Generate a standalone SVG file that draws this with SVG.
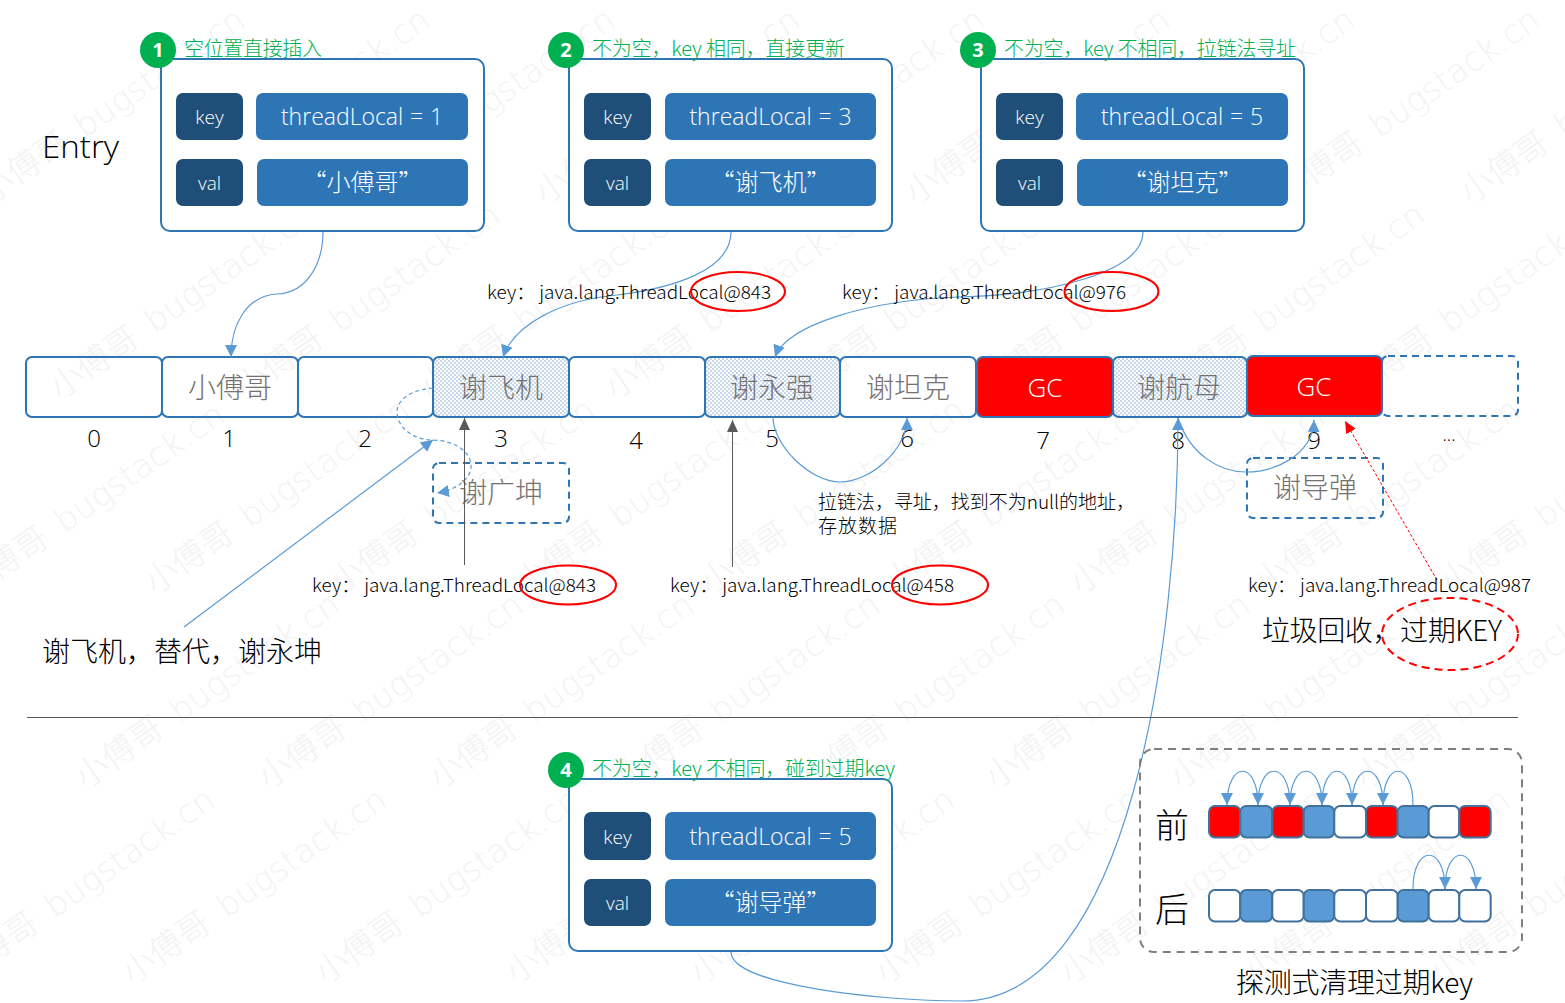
<svg xmlns="http://www.w3.org/2000/svg" xmlns:xlink="http://www.w3.org/1999/xlink" width="1565" height="1003" viewBox="0 0 1565 1003">
<style>
text{font-family:"Noto Sans CJK SC","Noto Sans",sans-serif;font-weight:300}
.wm{font-family:"DejaVu Sans","Noto Sans CJK SC",sans-serif;font-size:33px;fill:#f3f3f3;word-spacing:6px}
.cell{fill:none;stroke:#2e75b6;stroke-width:2}
.dot{fill:url(#dots);stroke:#2e75b6;stroke-width:2}
.gc{fill:#f00;stroke:#2e75b6;stroke-width:2}
.dash{fill:none;stroke:#2e75b6;stroke-width:2;stroke-dasharray:7 5}
.ct{font-size:28px;fill:#767171;text-anchor:middle}
.gct{font-size:26px;fill:#fff;text-anchor:middle;font-family:"Open Sans",sans-serif}
.idx{font-size:24px;fill:#000;text-anchor:middle;font-family:"Open Sans",sans-serif}
.box{fill:#fff;stroke:#2e75b6;stroke-width:2}
.k{fill:#1f4e79}
.v{fill:#2e75b6}
.kt{font-size:19px;fill:#fff;text-anchor:middle;font-family:"Open Sans",sans-serif}
.vt{font-size:23px;fill:#fff;text-anchor:middle;font-family:"Open Sans",sans-serif;word-spacing:.8px}
.vc{font-size:24px;fill:#fff;text-anchor:middle}
.badge{fill:#00b050}
.bt{font-size:20px;font-weight:700;fill:#fff;text-anchor:middle;font-family:"Open Sans",sans-serif}
.gl{font-size:20px;fill:#00b050}
.lb{font-size:18px;fill:#000}
.big{font-size:28px;fill:#000}
.conn{fill:none;stroke:#5b9bd5;stroke-width:1.2}
.gray{fill:none;stroke:#595959;stroke-width:1}
.oval{fill:none;stroke:#f00;stroke-width:2}
.sc{stroke:#41719c;stroke-width:2}
.sr{fill:#f00}.sb{fill:#5b9bd5}.sw{fill:#fff}
</style>
<defs>
<pattern id="dots" width="4" height="4" patternUnits="userSpaceOnUse"><rect width="4" height="4" fill="#fff"/><circle cx="1" cy="1" r="0.8" fill="#7fa8d4"/><circle cx="3" cy="3" r="0.8" fill="#7fa8d4"/></pattern>
<marker id="ab" markerUnits="userSpaceOnUse" markerWidth="14" markerHeight="14" refX="12" refY="6" orient="auto"><path d="M0 0L12 6L0 12Z" fill="#5b9bd5"/></marker>
<marker id="ag" markerUnits="userSpaceOnUse" markerWidth="14" markerHeight="14" refX="12" refY="5.5" orient="auto"><path d="M0 0L12 5.5L0 11Z" fill="#595959"/></marker>
<marker id="ar" markerUnits="userSpaceOnUse" markerWidth="14" markerHeight="14" refX="12" refY="5.5" orient="auto"><path d="M0 0L12 5.5L0 11Z" fill="#f00"/></marker>
<text id="w" class="wm">小傅哥 bugstack.cn</text>
</defs>
<rect width="1565" height="1003" fill="#fff"/>
<g id="watermark">
<use xlink:href="#w" transform="translate(-40,985) rotate(-35)"/><use xlink:href="#w" transform="translate(132,985) rotate(-35)"/><use xlink:href="#w" transform="translate(325,985) rotate(-35)"/><use xlink:href="#w" transform="translate(515,985) rotate(-35)"/><use xlink:href="#w" transform="translate(700,985) rotate(-35)"/><use xlink:href="#w" transform="translate(885,985) rotate(-35)"/><use xlink:href="#w" transform="translate(1070,985) rotate(-35)"/><use xlink:href="#w" transform="translate(1255,985) rotate(-35)"/><use xlink:href="#w" transform="translate(1440,985) rotate(-35)"/>
<use xlink:href="#w" transform="translate(85,790) rotate(-35)"/><use xlink:href="#w" transform="translate(268,790) rotate(-35)"/><use xlink:href="#w" transform="translate(439,790) rotate(-35)"/><use xlink:href="#w" transform="translate(625,790) rotate(-35)"/><use xlink:href="#w" transform="translate(810,790) rotate(-35)"/><use xlink:href="#w" transform="translate(995,790) rotate(-35)"/><use xlink:href="#w" transform="translate(1180,790) rotate(-35)"/><use xlink:href="#w" transform="translate(1365,790) rotate(-35)"/>
<use xlink:href="#w" transform="translate(-30,600) rotate(-35)"/><use xlink:href="#w" transform="translate(155,595) rotate(-35)"/><use xlink:href="#w" transform="translate(340,595) rotate(-35)"/><use xlink:href="#w" transform="translate(525,595) rotate(-35)"/><use xlink:href="#w" transform="translate(710,595) rotate(-35)"/><use xlink:href="#w" transform="translate(895,595) rotate(-35)"/><use xlink:href="#w" transform="translate(1080,595) rotate(-35)"/><use xlink:href="#w" transform="translate(1265,595) rotate(-35)"/><use xlink:href="#w" transform="translate(1450,595) rotate(-35)"/>
<use xlink:href="#w" transform="translate(60,400) rotate(-35)"/><use xlink:href="#w" transform="translate(245,400) rotate(-35)"/><use xlink:href="#w" transform="translate(430,400) rotate(-35)"/><use xlink:href="#w" transform="translate(615,400) rotate(-35)"/><use xlink:href="#w" transform="translate(800,400) rotate(-35)"/><use xlink:href="#w" transform="translate(985,400) rotate(-35)"/><use xlink:href="#w" transform="translate(1170,400) rotate(-35)"/><use xlink:href="#w" transform="translate(1355,400) rotate(-35)"/>
<use xlink:href="#w" transform="translate(-10,205) rotate(-35)"/><use xlink:href="#w" transform="translate(175,205) rotate(-35)"/><use xlink:href="#w" transform="translate(360,205) rotate(-35)"/><use xlink:href="#w" transform="translate(545,205) rotate(-35)"/><use xlink:href="#w" transform="translate(730,205) rotate(-35)"/><use xlink:href="#w" transform="translate(915,205) rotate(-35)"/><use xlink:href="#w" transform="translate(1100,205) rotate(-35)"/><use xlink:href="#w" transform="translate(1285,205) rotate(-35)"/><use xlink:href="#w" transform="translate(1470,205) rotate(-35)"/>
</g>

<text x="42" y="158" font-size="32" fill="#000" textLength="77" lengthAdjust="spacingAndGlyphs" style="font-family:'Open Sans',sans-serif">Entry</text>

<g id="entry1"><rect class="box" x="161" y="59" width="323" height="172" rx="9"/><rect class="k" x="176" y="93" width="67" height="47" rx="7"/><rect class="v" x="256" y="93" width="212" height="47" rx="7"/><rect class="k" x="176" y="159" width="67" height="47" rx="7"/><rect class="v" x="257" y="159" width="211" height="47" rx="7"/><text class="kt" x="209.500" y="124">key</text><text class="vt" x="362" y="125">threadLocal = 1</text><text class="kt" x="209.500" y="190">val</text><text class="vc" x="362.500" y="191">“小傅哥”</text><circle class="badge" cx="158" cy="50" r="18"/><text class="bt" x="158" y="57">1</text><text class="gl" x="184" y="56" textLength="138">空位置直接插入</text></g>
<g id="entry2"><rect class="box" x="569" y="59" width="323" height="172" rx="9"/><rect class="k" x="584" y="93" width="67" height="47" rx="7"/><rect class="v" x="665" y="93" width="211" height="47" rx="7"/><rect class="k" x="584" y="159" width="67" height="47" rx="7"/><rect class="v" x="665" y="159" width="211" height="47" rx="7"/><text class="kt" x="617.500" y="124">key</text><text class="vt" x="770.500" y="125">threadLocal = 3</text><text class="kt" x="617.500" y="190">val</text><text class="vc" x="770.500" y="191">“谢飞机”</text><circle class="badge" cx="566" cy="50" r="18"/><text class="bt" x="566" y="57">2</text><text class="gl" x="592" y="56" textLength="253">不为空，key 相同，直接更新</text></g>
<g id="entry3"><rect class="box" x="981" y="59" width="323" height="172" rx="9"/><rect class="k" x="996" y="93" width="67" height="47" rx="7"/><rect class="v" x="1076" y="93" width="212" height="47" rx="7"/><rect class="k" x="996" y="159" width="67" height="47" rx="7"/><rect class="v" x="1077" y="159" width="211" height="47" rx="7"/><text class="kt" x="1029.500" y="124">key</text><text class="vt" x="1182" y="125">threadLocal = 5</text><text class="kt" x="1029.500" y="190">val</text><text class="vc" x="1182.500" y="191">“谢坦克”</text><circle class="badge" cx="978" cy="50" r="18"/><text class="bt" x="978" y="57">3</text><text class="gl" x="1004" y="56" textLength="292">不为空，key 不相同，拉链法寻址</text></g>
<g id="entry4"><rect class="box" x="569" y="779" width="323" height="172" rx="9"/><rect class="k" x="584" y="812" width="67" height="48" rx="7"/><rect class="v" x="665" y="812" width="211" height="48" rx="7"/><rect class="k" x="584" y="879" width="67" height="47" rx="7"/><rect class="v" x="665" y="879" width="211" height="47" rx="7"/><text class="kt" x="617.500" y="844">key</text><text class="vt" x="770.500" y="845">threadLocal = 5</text><text class="kt" x="617.500" y="910">val</text><text class="vc" x="770.500" y="911">“谢导弹”</text><circle class="badge" cx="566" cy="770" r="18"/><text class="bt" x="566" y="777">4</text><text class="gl" x="592" y="776" textLength="303">不为空，key 不相同，碰到过期key</text></g>

<g id="slot0"><rect class="cell" x="26" y="357" width="136" height="60" rx="6"/><text class="idx" x="94" y="447">0</text></g>
<g id="slot1"><rect class="cell" x="162" y="357" width="136" height="60" rx="6"/><text class="ct" x="230" y="398">小傅哥</text><text class="idx" x="229" y="447">1</text></g>
<g id="slot2"><rect class="cell" x="298" y="357" width="135" height="60" rx="6"/><text class="idx" x="365" y="447">2</text></g>
<g id="slot3"><rect class="dot" x="433" y="357" width="136" height="60" rx="6"/><text class="ct" x="501" y="398">谢飞机</text><text class="idx" x="501" y="447">3</text></g>
<g id="slot4"><rect class="cell" x="569" y="357" width="136" height="60" rx="6"/><text class="idx" x="636" y="449">4</text></g>
<g id="slot5"><rect class="dot" x="705" y="357" width="135" height="60" rx="6"/><text class="ct" x="772" y="398">谢永强</text><text class="idx" x="772" y="447">5</text></g>
<g id="slot6"><rect class="cell" x="840" y="357" width="136" height="60" rx="6"/><text class="ct" x="908" y="398">谢坦克</text><text class="idx" x="907" y="447">6</text></g>
<g id="slot7"><rect class="gc" x="977" y="357" width="136" height="60" rx="6"/><text class="gct" x="1045" y="397">GC</text><text class="idx" x="1043" y="449">7</text></g>
<g id="slot8"><rect class="dot" x="1113" y="357" width="134" height="60" rx="6"/><text class="ct" x="1179" y="398">谢航母</text><text class="idx" x="1178" y="449">8</text></g>
<g id="slot9"><rect class="gc" x="1247" y="356" width="135" height="60" rx="6"/><text class="gct" x="1314" y="396">GC</text><text class="idx" x="1314" y="449">9</text></g>
<g id="slot10"><rect class="dash" x="1382" y="356" width="136" height="60" rx="6"/><text class="idx" x="1449" y="441" style="font-size:18px">...</text></g>
<g id="guangkun"><rect class="dash" x="433" y="463" width="136" height="60" rx="6"/><text class="ct" x="501" y="503">谢广坤</text></g>
<g id="daodan"><rect class="dash" x="1247" y="458" width="136" height="60" rx="6"/><text class="ct" x="1315" y="498">谢导弹</text></g>

<g id="connectors">
<path class="conn" marker-end="url(#ab)" d="M323 232C323 262 308 293 277 294C246 296 231 325 231 357"/>
<path class="conn" marker-end="url(#ab)" d="M731 232C731 270 674 288 617 295C560 300 514 325 503 357"/>
<path class="conn" marker-end="url(#ab)" d="M1143 232C1143 272 1050 295 959 297C868 300 787 325 775 357"/>
<path class="conn" marker-end="url(#ab)" d="M731 952C731 985 880 1001 962 1001C1130 1001 1178 640 1178 418"/>
<path class="conn" marker-end="url(#ab)" d="M773 417C773 445 810 482 840 482C870 482 907 450 907 418"/>
<path class="conn" marker-end="url(#ab)" d="M1178 418C1190 455 1220 472 1246 472C1275 472 1313 455 1314 420"/>
<path class="conn" marker-end="url(#ab)" d="M184 627L433 440"/>
<path class="conn" stroke-dasharray="4 3" marker-end="url(#ab)" d="M433 388C410 390 397 400 397 412C397 428 415 440 431 440C452 440 471 450 471 466C471 480 455 490 437 493"/>
<path class="gray" marker-end="url(#ag)" d="M464.500 565L464.500 418"/>
<path class="gray" marker-end="url(#ag)" d="M732.500 567L732.500 420"/>
<path fill="none" stroke="#f00" stroke-width="1" stroke-dasharray="3 2" marker-end="url(#ar)" d="M1437 580L1345 421"/>
<line x1="27" y1="717.500" x2="1518" y2="717.500" stroke="#595959" stroke-width="1"/>
</g>

<g id="labels">
<text class="lb" x="487" y="299" textLength="284" lengthAdjust="spacingAndGlyphs">key： java.lang.ThreadLocal@843</text>
<ellipse class="oval" cx="738" cy="291.500" rx="47" ry="19.500"/>
<text class="lb" x="842" y="299" textLength="284" lengthAdjust="spacingAndGlyphs">key： java.lang.ThreadLocal@976</text>
<ellipse class="oval" cx="1111.500" cy="291.500" rx="47" ry="19.500"/>
<text class="lb" x="312" y="592" textLength="284" lengthAdjust="spacingAndGlyphs">key： java.lang.ThreadLocal@843</text>
<ellipse class="oval" cx="568" cy="585" rx="48" ry="19.500"/>
<text class="lb" x="670" y="592" textLength="284" lengthAdjust="spacingAndGlyphs">key： java.lang.ThreadLocal@458</text>
<ellipse class="oval" cx="940" cy="585" rx="48" ry="19.500"/>
<text class="lb" x="1248" y="592" textLength="283" lengthAdjust="spacingAndGlyphs">key： java.lang.ThreadLocal@987</text>
<text class="lb" x="818" y="509" style="font-size:19px" textLength="317">拉链法，寻址，找到不为null的地址，</text>
<text class="lb" x="818" y="533" style="font-size:19px" textLength="79">存放数据</text>
<text class="big" x="42" y="662" textLength="280">谢飞机，替代，谢永坤</text>
<text class="big" x="1262" y="641" textLength="240">垃圾回收，过期KEY</text>
<ellipse cx="1450" cy="634" rx="68" ry="36" fill="none" stroke="#f00" stroke-width="2" stroke-dasharray="8 5"/>
</g>

<g id="probe">
<rect x="1140" y="749" width="382" height="203" rx="14" fill="none" stroke="#7f7f7f" stroke-width="2" stroke-dasharray="8 6"/>
<text x="1155" y="838" font-size="34" fill="#000">前</text>
<text x="1155" y="922" font-size="34" fill="#000">后</text>
<rect class="sc sr" x="1209" y="806" width="31.300" height="31.500" rx="6"/><rect class="sc sb" x="1240.300" y="806" width="32" height="31.500" rx="6"/><rect class="sc sr" x="1272.300" y="806" width="31.400" height="31.500" rx="6"/><rect class="sc sb" x="1303.700" y="806" width="30.600" height="31.500" rx="6"/><rect class="sc sw" x="1334.300" y="806" width="31.700" height="31.500" rx="6"/><rect class="sc sr" x="1366" y="806" width="31.700" height="31.500" rx="6"/><rect class="sc sb" x="1397.700" y="806" width="31" height="31.500" rx="6"/><rect class="sc sw" x="1428.700" y="806" width="30.600" height="31.500" rx="6"/><rect class="sc sr" x="1459.300" y="806" width="31.400" height="31.500" rx="6"/>
<rect class="sc sw" x="1209" y="890" width="31.300" height="31.500" rx="6"/><rect class="sc sb" x="1240.300" y="890" width="32" height="31.500" rx="6"/><rect class="sc sw" x="1272.300" y="890" width="31.400" height="31.500" rx="6"/><rect class="sc sb" x="1303.700" y="890" width="30.600" height="31.500" rx="6"/><rect class="sc sw" x="1334.300" y="890" width="31.700" height="31.500" rx="6"/><rect class="sc sw" x="1366" y="890" width="31.700" height="31.500" rx="6"/><rect class="sc sb" x="1397.700" y="890" width="31" height="31.500" rx="6"/><rect class="sc sw" x="1428.700" y="890" width="30.600" height="31.500" rx="6"/><rect class="sc sw" x="1459.300" y="890" width="31.400" height="31.500" rx="6"/>
<path class="conn" marker-end="url(#ab)" d="M1413 805C1413 760 1383 760 1383 805"/>
<path class="conn" marker-end="url(#ab)" d="M1383 805C1383 760 1352 760 1352 805"/>
<path class="conn" marker-end="url(#ab)" d="M1352 805C1352 760 1322 760 1322 805"/>
<path class="conn" marker-end="url(#ab)" d="M1322 805C1322 760 1290 760 1290 805"/>
<path class="conn" marker-end="url(#ab)" d="M1290 805C1290 760 1258 760 1258 805"/>
<path class="conn" marker-end="url(#ab)" d="M1258 805C1258 760 1227 760 1227 805"/>
<path class="conn" marker-end="url(#ab)" d="M1413 889C1413 844 1445 844 1445 889"/>
<path class="conn" marker-end="url(#ab)" d="M1445 889C1445 844 1476 844 1476 889"/>
<text x="1236" y="993" font-size="28" fill="#000" textLength="237">探测式清理过期key</text>
</g>
</svg>
